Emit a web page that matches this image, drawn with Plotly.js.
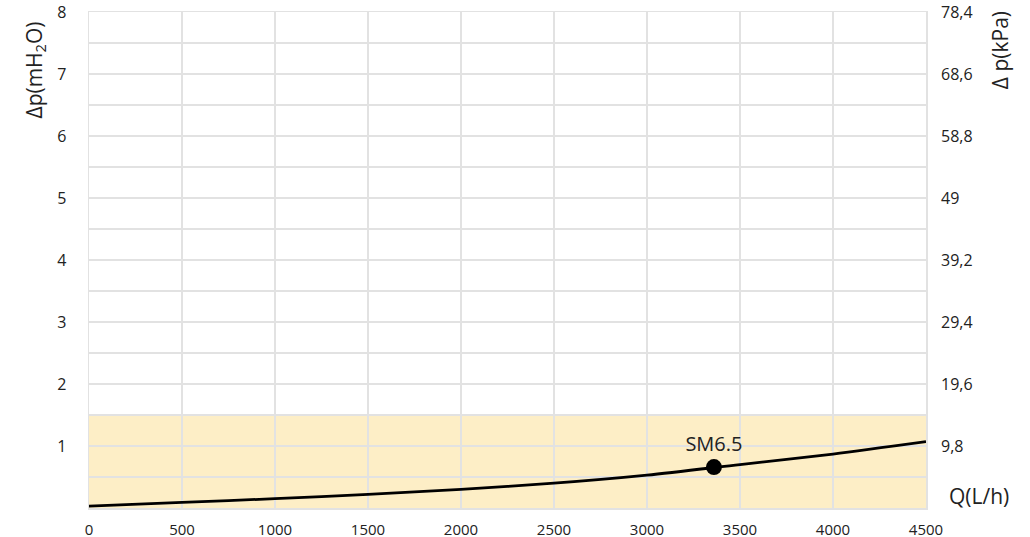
<!DOCTYPE html>
<html>
<head>
<meta charset="utf-8">
<script src="https://cdn.plot.ly/plotly-3.0.1.min.js"></script>
<style>html,body{margin:0;padding:0;background:#fff;}#chart{width:1030px;height:537px;}</style>
</head>
<body>
<div id="chart"></div>
<script>
// Flow (L/h) and pressure drop (mH2O) of the curve
var flowQ = [0, 500, 1000, 1500, 2000, 2500, 3000, 3500, 4000, 4500];
var dropM = [0.03, 0.09, 0.15, 0.22, 0.30, 0.40, 0.53, 0.70, 0.87, 1.07];
// Operating point
var pointName = 'SM6.5';
var pointQ = [3360];
var pointDrop = [0.66];
// Shaded band upper limit (mH2O)
var bandTop = 1.5;
// Tick labels
var xTickVals = [0, 500, 1000, 1500, 2000, 2500, 3000, 3500, 4000, 4500];
var xTickText = ['0', '500', '1000', '1500', '2000', '2500', '3000', '3500', '4000', '4500'];
var yTickVals = [1, 2, 3, 4, 5, 6, 7, 8];
var yTickText = ['1', '2', '3', '4', '5', '6', '7', '8'];
var y2TickVals = [9.8, 19.6, 29.4, 39.2, 49, 58.8, 68.6, 78.4];
var y2TickText = ['9,8', '19,6', '29,4', '39,2', '49', '58,8', '68,6', '78,4'];
var kPaPerM = 9.8;

var font = 'Open Sans, Lato, sans-serif';
var txt = '#222222';
var grid = '#e2e2e2';

var traces = [
  {x: flowQ, y: dropM, type: 'scatter', mode: 'lines',
   line: {color: '#000', width: 2.8, shape: 'spline', smoothing: 0.8}, hoverinfo: 'skip', showlegend: false},
  {x: pointQ, y: pointDrop, type: 'scatter', mode: 'markers+text', text: [pointName],
   textposition: 'top center', textfont: {family: font, size: 20, color: txt},
   marker: {color: '#000', size: 16}, showlegend: false, cliponaxis: false},
  {x: [0, 4500], y: [0, 8 * kPaPerM], yaxis: 'y2', type: 'scatter', mode: 'markers',
   marker: {opacity: 0}, hoverinfo: 'skip', showlegend: false}
];

var layout = {
  width: 1030, height: 537,
  margin: {l: 89, r: 104, t: 12, b: 29},
  paper_bgcolor: '#fff', plot_bgcolor: '#fff',
  font: {family: font, size: 16, color: txt},
  xaxis: {range: [0, 4500], tickvals: xTickVals, ticktext: xTickText, showgrid: true,
          gridcolor: grid, gridwidth: 1.5, zeroline: false, showline: true, linecolor: grid,
          linewidth: 1.5, mirror: true, ticks: '', ticklabelstandoff: 7,
          tickfont: {family: font, size: 15, color: txt}},
  yaxis: {range: [0, 8], tickvals: yTickVals, ticktext: yTickText, showgrid: true,
          gridcolor: grid, gridwidth: 1.5, zeroline: false, showline: true, linecolor: grid,
          linewidth: 1.5, mirror: true, ticks: '', ticklabelstandoff: 18,
          minor: {tickmode: 'linear', tick0: 0, dtick: 0.5, showgrid: true, gridcolor: grid,
                  gridwidth: 1.5, ticks: ''},
          tickfont: {family: font, size: 16, color: txt}},
  yaxis2: {range: [0, 8 * kPaPerM], overlaying: 'y', side: 'right', tickvals: y2TickVals,
           ticktext: y2TickText, showgrid: false, zeroline: false, showline: false, ticks: '',
           ticklabelstandoff: 14, tickfont: {family: font, size: 16, color: txt}},
  shapes: [{type: 'rect', xref: 'paper', yref: 'y', x0: 0, x1: 1, y0: 0, y1: bandTop,
            fillcolor: '#fdeec6', line: {width: 0}, layer: 'below'}],
  annotations: [
    {text: 'Δp(mH<sub>2</sub>O)', xref: 'paper', yref: 'paper', x: -0.065, y: 0.985,
     xanchor: 'center', yanchor: 'top', textangle: -90, showarrow: false,
     font: {family: font, size: 21, color: txt}},
    {text: 'Δ p(kPa)', xref: 'paper', yref: 'paper', x: 1.088, y: 1.005,
     xanchor: 'center', yanchor: 'top', textangle: -90, showarrow: false,
     font: {family: font, size: 21, color: txt}},
    {text: 'Q(L/h)', xref: 'paper', yref: 'paper', x: 1.025, y: 0.025,
     xanchor: 'left', yanchor: 'middle', showarrow: false,
     font: {family: font, size: 21, color: txt}}
  ]
};

Plotly.newPlot('chart', traces, layout, {displayModeBar: false, staticPlot: true});
</script>
</body>
</html>
